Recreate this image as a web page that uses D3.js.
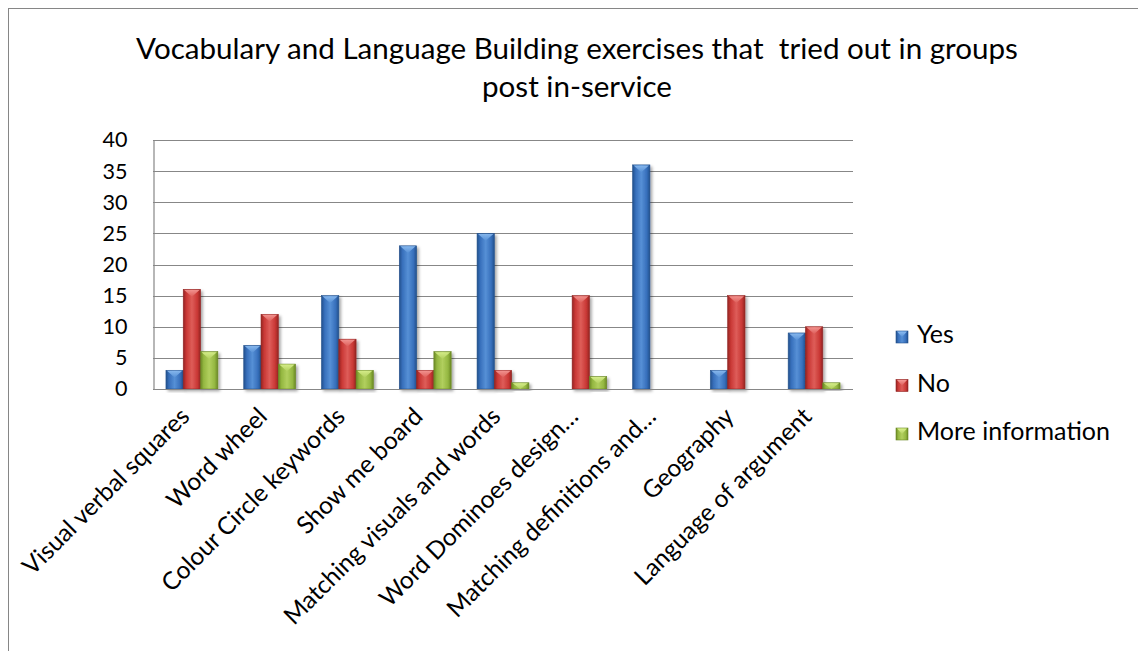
<!DOCTYPE html>
<html>
<head>
<meta charset="utf-8">
<script src="https://cdn.jsdelivr.net/npm/d3@7"></script>
<style>
  html, body { margin: 0; padding: 0; background: #fff; }
  svg { display: block; font-family: Lato, "Open Sans", sans-serif; }
  text { white-space: pre; }
</style>
</head>
<body>
<svg id="chart" width="1138" height="651"></svg>
<script>
const titleLines = ["Vocabulary and Language Building exercises that  tried out in groups", "post in-service"];
const categories = ["Visual verbal squares", "Word wheel", "Colour Circle keywords", "Show me board", "Matching visuals and words", "Word Dominoes design…", "Matching definitions and…", "Geography", "Language of argument"];
const seriesNames = ["Yes", "No", "More information"];
const yesValues  = [3, 7, 15, 23, 25, 0, 36, 3, 9];
const noValues   = [16, 12, 8, 3, 3, 15, 0, 15, 10];
const moreValues = [6, 4, 3, 6, 1, 2, 0, 0, 1];
const yTicks = [0, 5, 10, 15, 20, 25, 30, 35, 40];

const seriesValues = [yesValues, noValues, moreValues];
const palette = [
  { dark: "#22508c", main: "#376fbb", light: "#5690d6", top: "#8cbcf0" },
  { dark: "#932422", main: "#c93835", light: "#de5d59", top: "#f49a96" },
  { dark: "#6a8824", main: "#94b741", light: "#b1cf5e", top: "#d9f08e" }
];

const svg = d3.select("#chart");
const defs = svg.append("defs");

const filt = defs.append("filter").attr("id", "shadow").attr("x", "-30%").attr("y", "-10%").attr("width", "170%").attr("height", "130%");
filt.append("feDropShadow").attr("dx", 2).attr("dy", 2).attr("stdDeviation", 1.6).attr("flood-color", "#000").attr("flood-opacity", 0.35);

palette.forEach((p, i) => {
  const g = defs.append("linearGradient").attr("id", "grad" + i).attr("x1", "0").attr("x2", "1").attr("y1", "0").attr("y2", "0");
  [[0, p.dark], [0.18, p.main], [0.5, p.light], [0.82, p.main], [1, p.dark]].forEach(([o, c]) =>
    g.append("stop").attr("offset", o).attr("stop-color", c));
  const t = defs.append("linearGradient").attr("id", "top" + i).attr("x1", "0").attr("x2", "0").attr("y1", "0").attr("y2", "1");
  t.append("stop").attr("offset", 0).attr("stop-color", p.top);
  t.append("stop").attr("offset", 1).attr("stop-color", p.light);
});

// outer border
svg.append("rect").attr("x", 8.5).attr("y", 8.5).attr("width", 1200).attr("height", 700)
  .attr("fill", "none").attr("stroke", "#868686").attr("stroke-width", 1);

function fitSize(sel, sample, target) {
  const probe = svg.append("text").style("font-size", "100px").text(sample);
  const w = probe.node().getComputedTextLength();
  probe.remove();
  return 100 * target / w;
}

// title
const titleSize = fitSize(svg, titleLines[0], 882);
svg.append("text").attr("x", 577).attr("y", 59).attr("text-anchor", "middle")
  .style("font-size", titleSize + "px").attr("fill", "#000").text(titleLines[0]);
svg.append("text").attr("x", 577).attr("y", 97).attr("text-anchor", "middle")
  .style("font-size", titleSize + "px").attr("fill", "#000").text(titleLines[1]);

const plot = { left: 153, right: 853, top: 140, bottom: 389 };

const x0 = d3.scaleBand().domain(categories).range([plot.left, plot.right]).paddingInner(0).paddingOuter(0);
const bw = x0.bandwidth();
const x1 = d3.scaleBand().domain(seriesNames).range([bw / 6, bw * 5 / 6]).padding(0);
const y = d3.scaleLinear().domain([0, 40]).range([plot.bottom, plot.top]);

// gridlines
svg.append("g").selectAll("line").data(yTicks).join("line")
  .attr("x1", plot.left).attr("x2", plot.right)
  .attr("y1", d => Math.round(y(d)) + 0.5).attr("y2", d => Math.round(y(d)) + 0.5)
  .attr("stroke", "#878787").attr("stroke-width", 1.2);

// y axis
const tickSize = fitSize(svg, "40", 25);
const yAxis = svg.append("g").attr("transform", `translate(${plot.left + 0.5},0)`)
  .call(d3.axisLeft(y).tickValues(yTicks).tickSize(0).tickPadding(26));
yAxis.select(".domain").attr("stroke", "#878787").attr("stroke-width", 1.2);
yAxis.selectAll("text").style("font-size", tickSize + "px").style("font-family", "Lato, sans-serif").attr("fill", "#000");

// bars
const groups = svg.append("g").selectAll("g").data(categories).join("g")
  .attr("transform", d => `translate(${x0(d)},0)`);

groups.each(function (cat, ci) {
  const g = d3.select(this);
  seriesNames.forEach((s, si) => {
    const v = seriesValues[si][ci];
    if (!v) return;
    const bx = x1(s), w = x1.bandwidth();
    const top = y(v), h = y(0) - y(v);
    const bar = g.append("g").attr("filter", "url(#shadow)");
    bar.append("rect").attr("x", bx).attr("y", top).attr("width", w).attr("height", h)
      .attr("fill", `url(#grad${si})`).attr("stroke", palette[si].dark).attr("stroke-width", 0.6);
    const th = Math.min(w * 0.42, h);
    bar.append("polygon")
      .attr("points", `${bx + 1},${top + 0.5} ${bx + w - 1},${top + 0.5} ${bx + w / 2},${top + th}`)
      .attr("fill", `url(#top${si})`).attr("opacity", 0.9);
  });
});

// x axis line
svg.append("line").attr("x1", plot.left).attr("x2", plot.right)
  .attr("y1", plot.bottom + 0.5).attr("y2", plot.bottom + 0.5)
  .attr("stroke", "#878787").attr("stroke-width", 1.2);

// category labels
const catSize = fitSize(svg, categories[0], 224);
svg.append("g").selectAll("text").data(categories).join("text")
  .attr("transform", d => `translate(${x0(d) + bw / 2 - 1},${418}) rotate(-45)`)
  .attr("text-anchor", "end")
  .style("font-size", catSize + "px").attr("fill", "#000")
  .text(d => d);

// legend
const legSize = fitSize(svg, "More information", 193);
const leg = svg.append("g").selectAll("g").data(seriesNames).join("g")
  .attr("transform", (d, i) => `translate(896,${343 + i * 48.5})`);
leg.append("rect").attr("x", 0).attr("y", -12).attr("width", 12).attr("height", 12)
  .attr("fill", (d, i) => `url(#grad${i})`).attr("stroke", (d, i) => palette[i].dark).attr("stroke-width", 0.6);
leg.append("polygon").attr("points", "1,-11.5 11,-11.5 6,-6").attr("fill", (d, i) => `url(#top${i})`);
leg.append("text").attr("x", 21).attr("y", 0).style("font-size", legSize + "px").attr("fill", "#000").text(d => d);
</script>
</body>
</html>
